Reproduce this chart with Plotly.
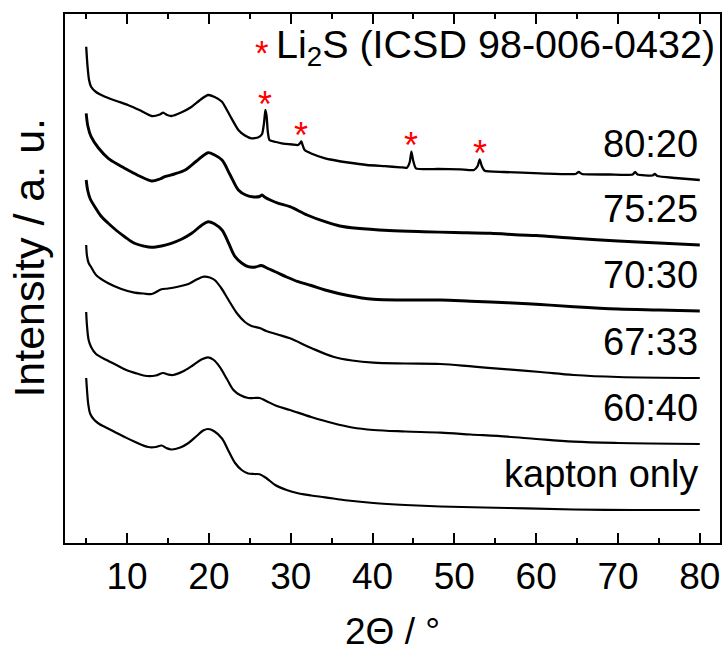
import numpy as np
import plotly.graph_objects as go

FONT = "Liberation Sans, Arial, sans-serif"

# ---- diffractograms: 2-theta (deg) and intensity above each trace's own baseline (a.u.)
kapton_x = [5.0, 5.1, 5.25, 5.5, 6.0, 6.6, 7.3, 8.5, 9.7, 11.0, 12.6, 13.5, 14.2, 14.8,
            15.4, 16.5, 17.5, 18.5, 19.3, 19.9, 20.6, 21.6, 22.4, 23.2, 24.0, 24.8, 25.6,
            26.2, 27.0, 28.1, 29.5, 30.9, 32.5, 34.2, 37.0, 40.1, 44.0, 48.3, 56.5, 64.6,
            72.0, 80.0]
kapton_y = [132, 120, 106, 96, 90, 86, 83, 78, 73, 68, 63, 63, 64.5, 62,
            60.5, 62.5, 67, 74, 79.5, 81, 79, 71.5, 59, 47, 40, 36.5, 36,
            35.7, 32, 25, 20, 16.7, 14.5, 12.7, 9.5, 7, 5, 3.5, 2, 0.5,
            0, 0]

s6040_x = [5.0, 5.1, 5.3, 5.6, 6.2, 7.5, 8.7, 9.9, 11.2, 12.4, 13.5, 14.4, 15.0, 15.6,
           16.8, 18.1, 19.2, 19.9, 20.6, 21.3, 22.2, 23.0, 23.8, 24.8, 25.5, 26.2, 27.0,
           28.3, 29.9, 32.5, 35.2, 37.5, 40.1, 44.0, 48.3, 52.0, 56.5, 60.0, 64.6, 70.0,
           80.0]
s6040_y = [132, 118, 104, 97, 90, 84, 79, 74, 70.5, 68, 68.5, 71, 69.5, 69,
           72.5, 79, 85, 86.7, 84, 77.3, 65, 54, 49, 46, 46, 46, 43,
           38, 34, 27, 20.7, 16.5, 14, 12.5, 11.3, 9.5, 7.3, 5, 2.3, 1,
           0]

s6733_x = [5.0, 5.1, 5.3, 5.6, 6.2, 7.7, 9.3, 10.9, 12.0, 13.0, 14.2, 15.0, 16.2, 17.5,
           18.5, 19.4, 20.1, 20.7, 21.5, 22.4, 23.4, 24.4, 25.2, 26.2, 27.0, 28.4, 29.9,
           32.5, 35.2, 37.5, 40.1, 44.0, 48.3, 52.4, 56.5, 60.5, 64.6, 70.0, 80.0]
s6733_y = [133, 122, 115, 111, 103, 94.7, 89, 85.3, 84.5, 84, 88.7, 89.5, 91.3, 94,
           98.5, 101.3, 100.5, 98, 90, 78, 65, 56, 52, 50, 47, 43.5, 39.7,
           30, 21.3, 17.5, 15.3, 14.5, 14, 11.3, 8.7, 6, 3, 1, 0]

s7030_x = [5.0, 5.2, 5.5, 6.05, 6.8, 7.7, 8.7, 9.7, 10.9, 12.0, 13.0, 14.2, 15.4, 16.7,
           17.9, 19.0, 19.9, 20.7, 21.6, 22.4, 23.2, 24.0, 24.8, 25.7, 26.4, 27.2, 28.1,
           29.5, 30.9, 32.5, 34.2, 37.0, 40.1, 44.0, 48.3, 52.0, 56.5, 60.5, 64.6, 70.0,
           75.0, 80.0]
s7030_y = [131, 120, 112, 104.3, 95, 87.7, 80.5, 74.3, 67.7, 65, 63.7, 65, 67.7, 72,
           77.7, 85, 89.3, 87, 81, 68, 54.3, 48, 44.3, 44, 45.5, 42.5, 39.3,
           34, 29.3, 25.5, 21, 15.5, 11.7, 11, 11, 9.8, 8.3, 6.5, 4.3, 2,
           1, 0]

s7525_x = [5.0, 5.2, 5.6, 6.5, 7.7, 9.0, 10.1, 11.5, 13.0, 14.0, 14.6, 15.8, 17.1, 18.5,
           19.9, 20.7, 21.6, 22.6, 23.6, 24.5, 25.5, 26.2, 26.5, 26.8, 27.5, 28.5, 29.9,
           32.0, 34.2, 36.0, 38.1, 42.0, 46.2, 50.0, 54.4, 58.0, 60.0, 64.6, 70.0, 75.0,
           80.0]
s7525_y = [131.7, 119, 108.3, 97, 86.7, 80, 75, 69, 64, 66, 68.3, 71, 75, 84,
           92.3, 90, 85, 70, 55, 50, 48, 48.5, 50, 48, 45, 41.7, 38.3,
           30, 23.3, 19, 16.7, 14.5, 13.3, 12.5, 11.7, 10, 9.5, 6.7, 4, 2,
           0]

s8020_x = [5.0, 5.15, 5.35, 5.6, 6.2, 7.3, 8.7, 10.1, 11.5, 13.0, 14.0, 14.4, 14.9, 15.4,
           16.6, 17.9, 19.0, 19.9, 20.7, 21.6, 22.6, 23.6, 24.4, 25.2, 26.0, 26.5, 26.75,
           26.9, 27.05, 27.2, 27.4, 28.2, 28.9, 30.2, 30.9, 31.15, 31.3, 31.45, 31.7, 32.5,
           34.2, 35.2, 37.0, 39.3, 41.5, 43.4, 44.2, 44.55, 44.75, 44.95, 45.3, 48.0, 50.7,
           52.4, 52.85, 53.1, 53.35, 53.7, 56.0, 60.5, 64.8, 65.2, 65.6, 69.0, 71.8, 72.1,
           72.4, 74.2, 74.5, 74.8, 77.0, 80.0]
s8020_y = [133.3, 115, 100, 93.3, 88, 83.3, 79, 75, 70, 64, 65.5, 67.3, 65, 64,
           67.5, 73.3, 80.5, 85, 83, 78.3, 64, 50, 44.5, 41.7, 42.5, 46, 58,
           70, 64, 48, 40, 38, 36.7, 35.5, 35, 37, 38.5, 35, 30, 26.5,
           21.7, 20, 17.5, 15, 13.8, 12.7, 12.3, 18, 28.3, 20, 11.7, 11, 10.7,
           10, 14, 20.7, 14, 9.3, 8, 6.7, 6, 8, 6, 5.5, 5.5, 8,
           5.5, 4.5, 6, 4, 2, 0]

# ---- stacking order (bottom to top), vertical offsets and labels
labels = ["kapton only", "60:40", "67:33", "70:30", "75:25", "80:20"]
offsets = [33, 99, 165, 232, 298, 363]
widths = [2.2, 2.2, 2.2, 2.9, 2.9, 2.3]
smooth = [1.0, 1.0, 1.0, 1.0, 0.9, 0.5]
series = [(kapton_x, kapton_y), (s6040_x, s6040_y), (s6733_x, s6733_y),
          (s7030_x, s7030_y), (s7525_x, s7525_y), (s8020_x, s8020_y)]

# Li2S reflections marked on the 80:20 trace
li2s_x = [26.9, 31.3, 44.75, 53.1]
star_gap = 13

# x-axis tick positions (deg)
major_ticks = [10, 20, 30, 40, 50, 60, 70, 80]

X_RANGE = [2.41, 82.47]
Y_RANGE = [0, 529]

fig = go.Figure()

for (xs, ys), off, lab, w, sm in zip(series, offsets, labels, widths, smooth):
    fig.add_trace(go.Scatter(
        x=xs, y=np.array(ys) + off, mode="lines", name=lab,
        line=dict(color="black", width=w, shape="spline", smoothing=sm),
        showlegend=False, hoverinfo="skip"))
    fig.add_annotation(
        x=80, y=off + 36, xref="x", yref="y", text=lab, showarrow=False,
        xanchor="right", yanchor="middle",
        font=dict(family=FONT, size=38, color="black"))

peak_y = np.interp(li2s_x, s8020_x, s8020_y) + offsets[5]
for px_, py_ in zip(li2s_x, peak_y):
    fig.add_annotation(
        x=px_, y=py_ + star_gap, xref="x", yref="y", text="*", showarrow=False,
        xanchor="center", yanchor="middle", yshift=-7,
        font=dict(family=FONT, size=36, color="red"))

# key for the reflection markers
fig.add_annotation(
    x=26.5, y=543 - 45, xref="x", yref="y", text="*", showarrow=False,
    xanchor="center", yanchor="middle", yshift=-7,
    font=dict(family=FONT, size=35, color="red"))
fig.add_annotation(
    x=28.0, y=543 - 47, xref="x", yref="y",
    text="Li<sub>2</sub>S (ICSD 98-006-0432)", showarrow=False,
    xanchor="left", yanchor="middle",
    font=dict(family=FONT, size=39.5, color="black"))

# axis titles
fig.add_annotation(
    x=0.5, y=-0.167, xref="paper", yref="paper", text="2\u0398 / \u00b0",
    showarrow=False, xanchor="center", yanchor="middle",
    font=dict(family=FONT, size=37, color="black"))
fig.add_annotation(
    x=(28 - 65) / 657, y=543 - 257.5, xref="paper", yref="y",
    text="Intensity / a. u.",
    showarrow=False, xanchor="center", yanchor="middle", textangle=-90,
    font=dict(family=FONT, size=43, color="black"))

fig.update_layout(
    width=726, height=652,
    margin=dict(l=65, r=4, t=14, b=109),
    paper_bgcolor="white", plot_bgcolor="white",
    font=dict(family=FONT, size=37, color="black"),
    xaxis=dict(
        range=X_RANGE, tickmode="array", tickvals=major_ticks,
        ticks="inside", ticklen=10, tickwidth=2, tickcolor="black",
        showline=True, linewidth=2, linecolor="black", mirror="ticks",
        showgrid=False, zeroline=False,
        tickfont=dict(family=FONT, size=37, color="black"),
        minor=dict(tick0=5, dtick=10, ticks="inside", ticklen=5,
                   tickwidth=2, tickcolor="black", showgrid=False),
    ),
    yaxis=dict(
        range=Y_RANGE, showticklabels=False, ticks="",
        showline=True, linewidth=2, linecolor="black", mirror=True,
        showgrid=False, zeroline=False,
    ),
)

fig.write_html("out.html")
